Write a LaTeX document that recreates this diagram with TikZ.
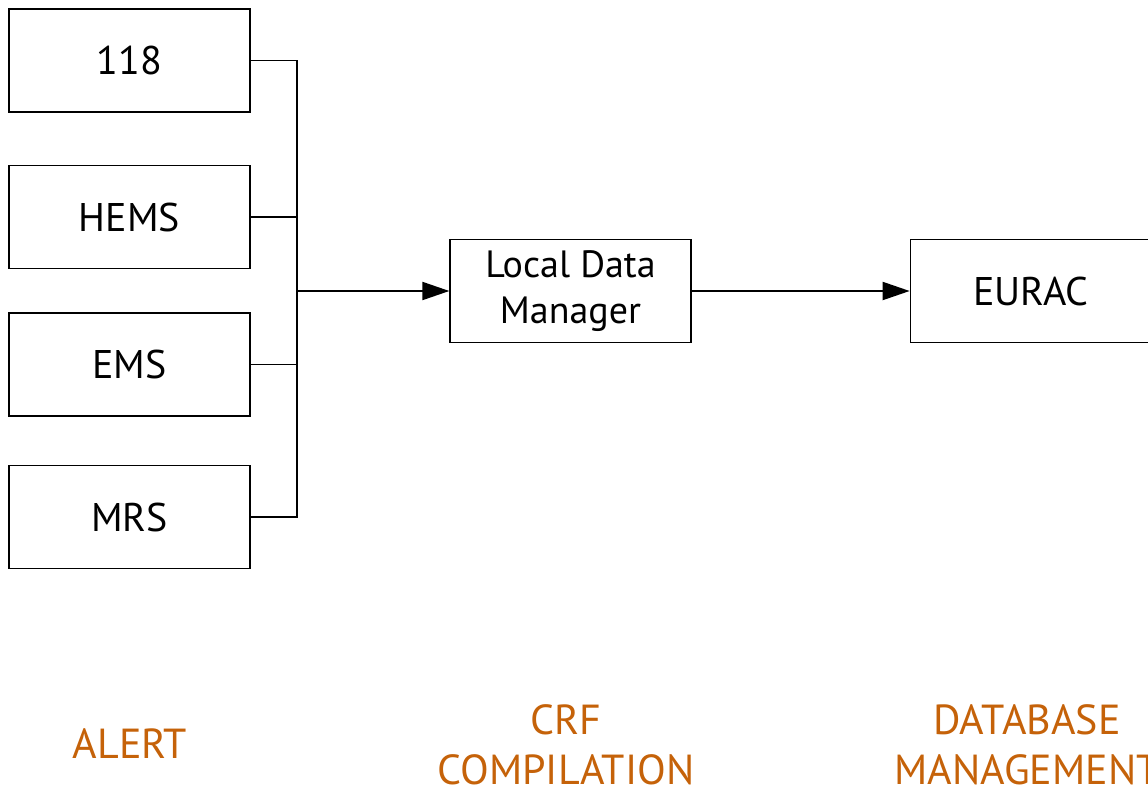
\documentclass[tikz,border=0pt]{standalone}
\usepackage{fontspec}
\setmainfont{PT Sans}
\usetikzlibrary{positioning, arrows.meta}
\definecolor{phase}{RGB}{197,98,9}

\begin{document}
\begin{tikzpicture}[x=1pt,y=-1pt,
	box/.style={draw,line width=1.3pt,minimum width=241pt,minimum height=103pt,inner sep=0pt,align=center,font=\fontsize{40}{45}\selectfont},
	phase/.style={text=phase,align=center,font=\fontsize{42}{50}\selectfont},
	feed/.style={line width=1.3pt},
	flow/.style={line width=2pt,-{Triangle[length=27pt,width=18pt]}}]
	\useasboundingbox (0,0) rectangle (1148,787);
	\node[box] (n118) at (129.5,60.5) {118};
	\node[box] (hems) at (129.5,217) {HEMS};
	\node[box] (ems) at (129.5,364.5) {EMS};
	\node[box] (mrs) at (129.5,517) {MRS};
	\node[box,font=\fontsize{38}{46}\selectfont] (ldm) at (570.5,291) {Local Data\\Manager};
	\node[box] (eurac) [right=218pt of ldm] {EURAC};
	\coordinate (j) at (297,291);
	\draw[feed] (n118.east) -| (j);
	\draw[feed] (hems.east) -| (j);
	\draw[feed] (ems.east) -| (j);
	\draw[feed] (mrs.east) -| (j);
	\draw[flow] (j) -- (ldm);
	\draw[flow] (ldm) -- (eurac);
	\node[phase] (alert) at (130,744) {ALERT};
	\node[phase] (crf) at (566,745) {CRF\\COMPILATION};
	\node[phase] (db) at (1027,745) {DATABASE\\MANAGEMENT};
\end{tikzpicture}
\end{document}
